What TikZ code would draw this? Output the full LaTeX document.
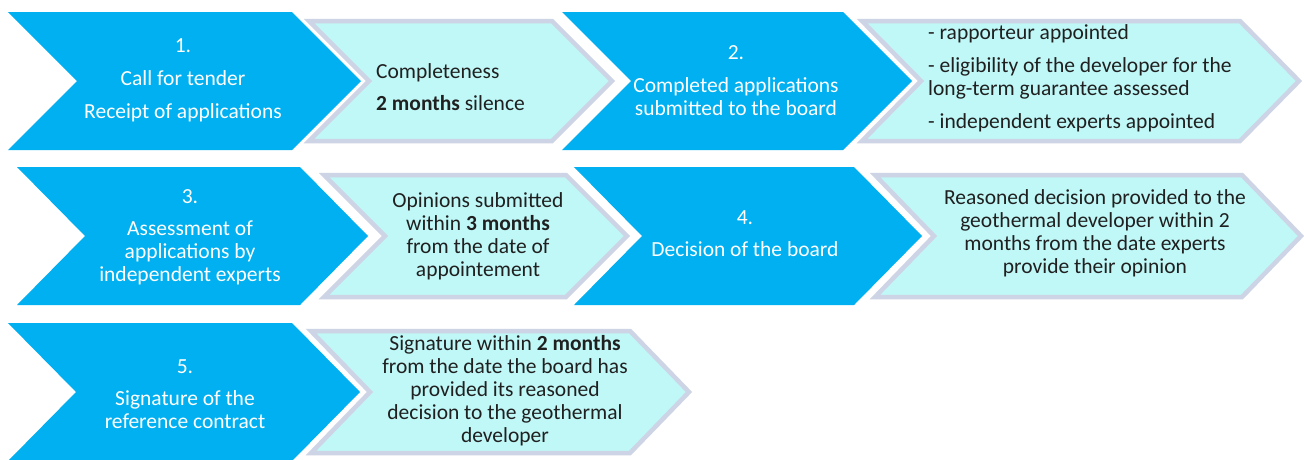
\documentclass[tikz,border=0pt]{standalone}
\usepackage{fontspec}
\setmainfont{Carlito}
\definecolor{cblue}{HTML}{00B0F0}
\definecolor{clight}{HTML}{C0F7F7}
\definecolor{cedge}{HTML}{CDD4E5}
\definecolor{ctext}{HTML}{202020}
\newcommand\chevpath[6]{%
  \path[#1] (#2,#4) -- (#3,#4) -- ({#3+#6},{(#4+#5)/2}) -- (#3,#5) -- (#2,#5) -- ({#2+#6},{(#4+#5)/2}) -- cycle;}
\tikzset{
  bluechev/.style={fill=cblue},
  lightchev/.style={fill=clight, draw=cedge, line width=4.5pt, line join=miter},
  txtbase/.style={inner sep=0pt, font=\fontsize{21.5}{23}\selectfont},
  bluetxt/.style={txtbase, text=white, align=center},
  lighttxt/.style={txtbase, text=ctext, align=center},
  lightleft/.style={txtbase, text=ctext, align=left, anchor=west}
}
\begin{document}
\begin{tikzpicture}[x=1pt,y=-1pt]
\useasboundingbox[fill=white] (0,0) rectangle (1304,459);
% row 1
\chevpath{bluechev}{8}{292}{12}{150}{69}
\chevpath{lightchev}{309}{552}{21}{141}{60}
\chevpath{bluechev}{562}{843}{12}{150}{69}
\chevpath{lightchev}{862}{1240}{21}{141}{59}
% row 2
\chevpath{bluechev}{17}{300}{167}{305}{68}
\chevpath{lightchev}{324}{566}{175}{297}{61}
\chevpath{bluechev}{574}{854}{167}{305}{68}
\chevpath{lightchev}{875}{1242}{175}{297}{59}
% row 3
\chevpath{bluechev}{8}{292}{323}{461}{68}
\chevpath{lightchev}{311}{630}{331}{453}{59}
% texts
\node[bluetxt] (t1) at (183,80) {1.\\[10pt]Call for tender\\[10pt]Receipt of applications};
\node[lightleft] (t1b) at (376,87) {Completeness\\[9pt]\textbf{2 months} silence};
\node[bluetxt] (t2) at (736,81) {2.\\[10pt]Completed applications\\submitted to the board};
\node[lightleft] (t2b) at (928,78) {- rapporteur appointed\\[10pt]- eligibility of the developer for the\\long-term guarantee assessed\\[10pt]- independent experts appointed};
\node[bluetxt] (t3) at (190,237) {3.\\[9pt]Assessment of\\applications by\\independent experts};
\node[lighttxt] (t3b) at (478,236) {Opinions submitted\\within \textbf{3 months}\\from the date of\\appointement};
\node[bluetxt] (t4) at (745,234) {4.\\[9pt]Decision of the board};
\node[lighttxt] (t4b) at (1095,233) {Reasoned decision provided to the\\geothermal developer within 2\\months from the date experts\\provide their opinion};
\node[bluetxt] (t5) at (185,394) {5.\\[9pt]Signature of the\\reference contract};
\node[lighttxt] (t5b) at (505,391) {Signature within \textbf{2 months}\\from the date the board has\\provided its reasoned\\decision to the geothermal\\developer};
\end{tikzpicture}
\end{document}
